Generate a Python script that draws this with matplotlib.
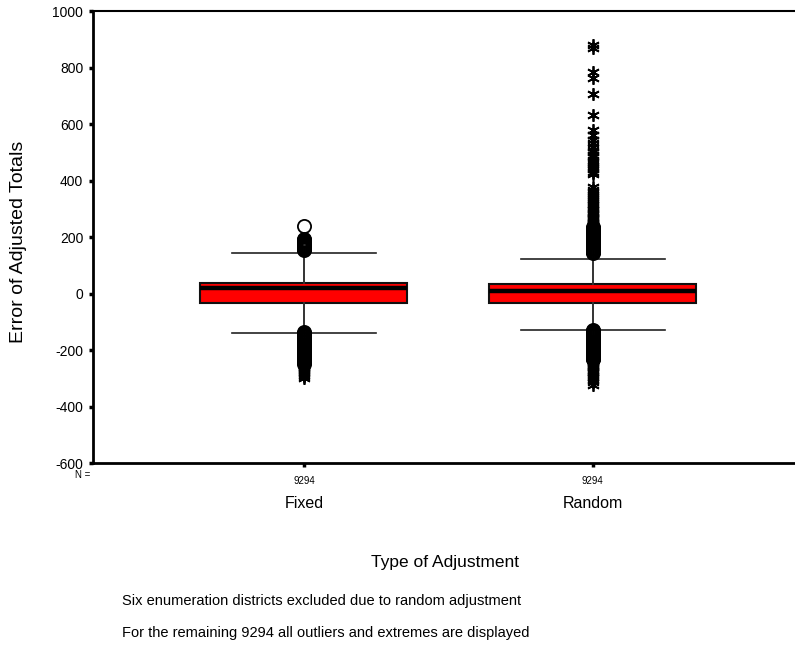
import matplotlib.pyplot as plt
import matplotlib.transforms as mtransforms

plt.rcParams['font.family'] = ['Liberation Sans', 'DejaVu Sans']
plt.rcParams['axes.unicode_minus'] = False

# box statistics
groups = ['Fixed', 'Random']
n_counts = [9294, 9294]
q1 = [-32, -32]
medians = [18, 8]
q3 = [39, 35]
whisk_lo = [-138, -128]
whisk_hi = [142, 124]

# outliers (circles) and extremes (asterisks)
fixed_out = [155, 158, 161, 164, 167, 170, 173, 176, 179, 182, 185, 188, 191, 194, 238,
             -137, -140, -143, -146, -149, -152, -155, -158, -161, -164, -167, -170,
             -173, -176, -179, -182, -185, -188, -191, -194, -197, -200, -203, -206,
             -209, -212, -215, -218, -221, -224, -227, -230, -233, -236, -240, -244, -248]
fixed_ext = [-252, -256, -260, -264, -268, -272, -277, -282, -288, -293, -298]
random_out = [145, 148, 151, 154, 157, 160, 163, 166, 169, 172, 175, 178, 181, 184, 187,
              190, 193, 196, 199, 202, 205, 208, 211, 214, 217, 220, 223, 226, 229, 232, 235,
              -128, -131, -134, -137, -140, -143, -146, -149, -152, -155, -158, -161, -164,
              -167, -170, -173, -176, -179, -182, -185, -188, -191, -194, -197, -200, -203,
              -206, -209, -212, -215, -218, -221, -224, -227, -230, -233]
random_ext = [239, 243, 247, 251, 255, 259, 263, 267, 271, 275, 280, 285, 290, 295, 300,
              306, 312, 318, 324, 330, 337, 344, 352, 360, 368, 376,
              425, 432, 440, 447, 455, 462, 470, 482, 490, 500, 510, 520, 532, 545, 560,
              578, 631, 706, 762, 784, 869, 879,
              -237, -241, -245, -249, -253, -257, -261, -265, -269, -273, -278, -283,
              -288, -294, -300, -306, -313, -322]
outliers = [fixed_out, random_out]
extremes = [fixed_ext, random_ext]

fig = plt.figure(figsize=(7.95, 6.54), dpi=100)
ax = fig.add_axes([0.117, 0.292, 0.883, 0.691])

stats = []
for i in range(len(groups)):
    stats.append({'med': medians[i], 'q1': q1[i], 'q3': q3[i],
                  'whislo': whisk_lo[i], 'whishi': whisk_hi[i], 'fliers': []})

pos = [1, 2]
ax.bxp(stats, positions=pos, widths=0.716, capwidths=0.5, showfliers=False,
       patch_artist=True,
       boxprops=dict(facecolor='#ff0000', edgecolor='#111111', linewidth=1.5),
       medianprops=dict(color='black', linewidth=3.2),
       whiskerprops=dict(color='#333333', linewidth=1.4),
       capprops=dict(color='#222222', linewidth=1.2),
       zorder=2)

for i, p in enumerate(pos):
    ax.plot([p] * len(outliers[i]), outliers[i], linestyle='none', marker='o',
            markersize=9.5, markerfacecolor='none', markeredgecolor='black',
            markeredgewidth=1.3, zorder=3)
    ax.plot([p] * len(extremes[i]), extremes[i], linestyle='none', marker=(6, 2, 0),
            markersize=9, markeredgecolor='black', markeredgewidth=1.3, zorder=3)

ax.set_xlim(0.27, 2.70)
ax.set_ylim(-600, 1000)
ax.set_yticks(range(-600, 1001, 200))
ax.tick_params(axis='y', direction='out', length=3, width=2.5, labelsize=10, pad=4)
ax.set_xticks(pos)
ax.set_xticklabels([str(n) for n in n_counts], fontsize=7)
ax.tick_params(axis='x', direction='out', length=3, width=2.5, pad=6)

ax.spines['right'].set_visible(False)
ax.spines['top'].set_linewidth(1.5)
ax.spines['left'].set_linewidth(2)
ax.spines['bottom'].set_linewidth(2)

trans = mtransforms.blended_transform_factory(ax.transData, fig.transFigure)
for i, p in enumerate(pos):
    ax.text(p, 1 - 504 / 654, groups[i], transform=trans, ha='center', va='center',
            fontsize=11.5)
fig.text(75 / 795, 1 - 475 / 654, 'N =', ha='left', va='center', fontsize=7)

fig.text(19 / 795, 1 - 242 / 654, 'Error of Adjusted Totals', rotation=90,
         ha='center', va='center', fontsize=14)
fig.text(445 / 795, 1 - 563 / 654, 'Type of Adjustment', ha='center', va='center',
         fontsize=12.5)
fig.text(122 / 795, 1 - 601 / 654,
         'Six enumeration districts excluded due to random adjustment',
         ha='left', va='center', fontsize=10.5)
fig.text(122 / 795, 1 - 633 / 654,
         'For the remaining 9294 all outliers and extremes are displayed',
         ha='left', va='center', fontsize=10.5)

fig.savefig('out.png', dpi=100)
plt.close(fig)
